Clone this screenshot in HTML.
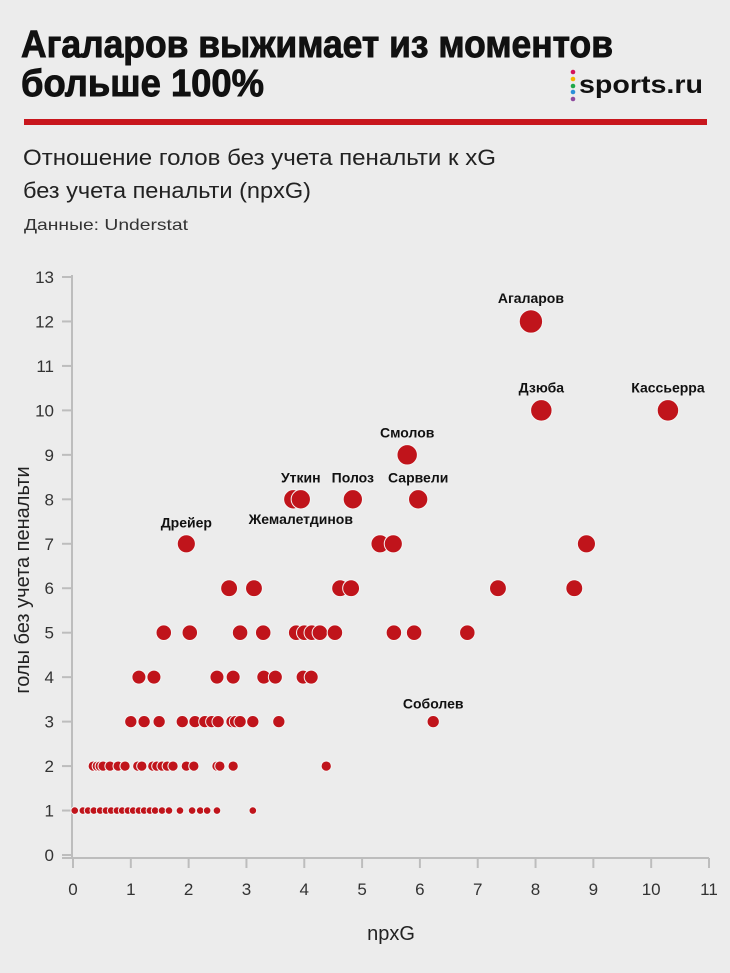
<!DOCTYPE html>
<html><head><meta charset="utf-8"><style>
html,body{margin:0;padding:0;background:#ececec;}
svg{display:block;font-family:"Liberation Sans",sans-serif;}
</style></head><body>
<svg id="chart" width="730" height="973" viewBox="0 0 730 973">
<rect width="730" height="973" fill="#ececec"/>
<text x="21" y="57" font-size="38" font-weight="bold" fill="#111" stroke="#111" stroke-width="0.9" textLength="592" lengthAdjust="spacingAndGlyphs">Агаларов выжимает из моментов</text>
<text x="21" y="96" font-size="38" font-weight="bold" fill="#111" stroke="#111" stroke-width="0.9" textLength="243" lengthAdjust="spacingAndGlyphs">больше 100%</text>
<g>
<circle cx="573" cy="72" r="2.3" fill="#d4145a"/><circle cx="573" cy="79" r="2.3" fill="#f4b400"/><circle cx="573" cy="86" r="2.3" fill="#1fa84a"/><circle cx="573" cy="92" r="2.3" fill="#2a8fd8"/><circle cx="573" cy="99" r="2.3" fill="#8e4a9e"/>
<text x="579" y="93" font-size="25" font-weight="bold" fill="#111" textLength="124" lengthAdjust="spacingAndGlyphs">sports.ru</text>
</g>
<rect x="24" y="119" width="683" height="6" fill="#c8161d"/>
<text x="23" y="165" font-size="22" fill="#222" textLength="473" lengthAdjust="spacingAndGlyphs">Отношение голов без учета пенальти к xG</text>
<text x="23" y="198" font-size="22" fill="#222" textLength="288" lengthAdjust="spacingAndGlyphs">без учета пенальти (npxG)</text>
<text x="24" y="230" font-size="16" fill="#333" textLength="164" lengthAdjust="spacingAndGlyphs">Данные: Understat</text>
<g id="axes"></g>
<g id="marks"></g>
<g id="labels"></g>
<text x="391" y="940" font-size="20" fill="#222" text-anchor="middle">npxG</text>
<text transform="translate(29,580) rotate(-90)" font-size="20" fill="#222" text-anchor="middle">голы без учета пенальти</text>
</svg>
<script>
const xTicks = [0,1,2,3,4,5,6,7,8,9,10,11];
const yTicks = [0,1,2,3,4,5,6,7,8,9,10,11,12,13];
const pointsX = [
 0.03,0.17,0.26,0.36,0.47,0.57,0.66,0.76,0.85,0.95,1.04,1.14,1.23,1.33,1.42,1.54,1.66,1.85,2.06,2.2,2.32,2.49,3.11,
 0.35,0.42,0.47,0.52,0.64,0.78,0.9,1.12,1.19,1.38,1.45,1.54,1.63,1.73,1.96,2.09,2.49,2.54,2.77,4.38,
 1.0,1.23,1.49,1.89,2.11,2.28,2.4,2.51,2.75,2.81,2.89,3.11,3.56,6.23,
 1.14,1.4,2.49,2.77,3.3,3.5,3.98,4.12,
 1.57,2.02,2.89,3.29,3.86,4.0,4.13,4.27,4.53,5.55,5.9,6.82,
 2.7,3.13,4.62,4.81,7.35,8.67,
 1.96,5.31,5.54,8.88,
 3.81,3.94,4.84,5.97,
 5.78,8.1,10.29,7.92];
const pointsY = [
 1,1,1,1,1,1,1,1,1,1,1,1,1,1,1,1,1,1,1,1,1,1,1,
 2,2,2,2,2,2,2,2,2,2,2,2,2,2,2,2,2,2,2,2,
 3,3,3,3,3,3,3,3,3,3,3,3,3,3,
 4,4,4,4,4,4,4,4,
 5,5,5,5,5,5,5,5,5,5,5,5,
 6,6,6,6,6,6,
 7,7,7,7,
 8,8,8,8,
 9,10,10,12];
const labelNames = ["Агаларов","Дзюба","Кассьерра","Смолов","Уткин","Полоз","Сарвели","Жемалетдинов","Дрейер","Соболев"];
const labelX = [7.92,8.1,10.29,5.78,3.94,4.84,5.97,3.94,1.96,6.23];
const labelY = [12,10,10,9,8,8,8,8,7,3];
const labelBelow = [false,false,false,false,false,false,false,true,false,false];

const X0=73, X1=709, Y0=855, Y1=277;
const sx = v => X0 + v*(X1-X0)/11;
const sy = v => Y0 - v*(Y0-Y1)/13;
const rad = g => 3.2*Math.sqrt(g)+0.6;
const NS="http://www.w3.org/2000/svg";
function mk(tag, attrs, parent){const e=document.createElementNS(NS,tag);for(const k in attrs)e.setAttribute(k,attrs[k]);parent.appendChild(e);return e;}
const axes=document.getElementById('axes'), marks=document.getElementById('marks'), labels=document.getElementById('labels');

let yl=mk('line',{x1:X0-1,x2:X0-1,y1:Y1-2,y2:Y0+4,stroke:'#bdbdbd','stroke-width':2},axes);


let xl=mk('line',{x1:X0-11,x2:X1,y1:Y0+3,y2:Y0+3,stroke:'#bdbdbd','stroke-width':2},axes);


yTicks.forEach(t=>{
  const tk=mk('line',{x1:X0-11,x2:X0-1,y1:sy(t),y2:sy(t),stroke:'#bdbdbd','stroke-width':2},axes);
  
  
  const tl=mk('text',{x:X0-19,y:sy(t)+6,'font-size':17,fill:'#333','text-anchor':'end'},axes);
  tl.textContent=t;
  
  
});
xTicks.forEach(t=>{
  const tk=mk('line',{x1:sx(t),x2:sx(t),y1:Y0+3,y2:Y0+13,stroke:'#bdbdbd','stroke-width':2},axes);
  
  
  const tl=mk('text',{x:sx(t),y:Y0+40,'font-size':17,fill:'#333','text-anchor':'middle'},axes);
  tl.textContent=t;
  
  
});
pointsX.forEach((x,i)=>{
  const c=mk('circle',{cx:sx(x),cy:sy(pointsY[i]),r:rad(pointsY[i]),fill:'#c0141b',stroke:'#f4f4f4','stroke-width':1},marks);
  
  
});
labelNames.forEach((n,i)=>{
  const r=rad(labelY[i]);
  const y = labelBelow[i] ? sy(labelY[i])+r+15 : sy(labelY[i])-r-7;
  const t=mk('text',{x:sx(labelX[i]),y:y,'font-size':14,'font-weight':'bold',fill:'#111','text-anchor':'middle'},labels);
  t.textContent=n;
  
  
});
</script>
</body></html>
